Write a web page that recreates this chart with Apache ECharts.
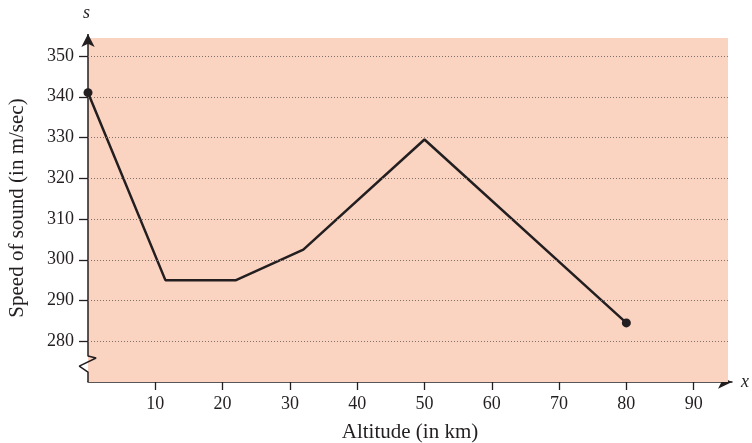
<!DOCTYPE html>
<html><head><meta charset="utf-8">
<script src="https://cdn.jsdelivr.net/npm/echarts@6/dist/echarts.min.js"></script>
<style>html,body{margin:0;padding:0;background:#fff}#c{width:752px;height:443px}</style>
</head><body><div id="c"></div>
<script>
// Data
const altitude = [0, 11.5, 22, 32, 50, 80];
const speed = [341, 295, 295, 302.5, 329.5, 284.5];
const xTicks = [10, 20, 30, 40, 50, 60, 70, 80, 90];
const yTicks = [280, 290, 300, 310, 320, 330, 340, 350];
// Axis extents and shaded region
const xMin = 0, xMax = 95.7;
const yMin = 270, yMax = 355.4;
const shadeRight = 95.1, shadeTop = 354.4;
// Broken y-axis (zigzag) path, bottom to top (drawn in an overlay grid that starts left of x = 0)
const overlayXMin = -1.4;
const yAxisPath = [[0, 270], [0, 272.45], [-1.3, 273.9], [1.2, 275.9], [0, 276.4], [0, yMax]];

const ink = '#231f20';
const serif = '"Liberation Serif", "DejaVu Serif", serif';

const chart = echarts.init(document.getElementById('c'));
const pxPerUnit = (752 - 20 - 88) / (xMax - xMin);
chart.setOption({
  animation: false,
  backgroundColor: '#ffffff',
  grid: [
    { left: 88, right: 20, top: 34, bottom: 61, containLabel: false, outerBoundsMode: 'none' },
    { left: 88 + overlayXMin * pxPerUnit, right: 20, top: 34, bottom: 61, containLabel: false, outerBoundsMode: 'none' }
  ],
  xAxis: [{
    type: 'value', gridIndex: 0, min: xMin, max: xMax,
    axisLine: { show: true, onZero: false, lineStyle: { color: ink, width: 1.5 }, symbol: ['none', 'arrow'], symbolSize: [10, 14] },
    axisTick: { show: true, inside: false, length: 8, customValues: xTicks, lineStyle: { color: ink, width: 1.3 } },
    axisLabel: { customValues: xTicks, margin: 13, color: ink, fontFamily: serif, fontSize: 18 },
    splitLine: { show: false },
    name: 'x', nameLocation: 'end', nameGap: 9,
    nameTextStyle: { fontFamily: serif, fontStyle: 'italic', fontSize: 18, color: ink, verticalAlign: 'middle' }
  }, {
    type: 'value', gridIndex: 0, min: xMin, max: xMax, position: 'bottom',
    axisLine: { show: false },
    axisTick: { show: true, inside: true, length: 7, customValues: xTicks, lineStyle: { color: ink, width: 1.3 } },
    axisLabel: { show: false },
    splitLine: { show: false },
    name: 'Altitude (in km)', nameLocation: 'middle', nameGap: 40,
    nameTextStyle: { fontFamily: serif, fontSize: 21, color: ink }
  }, {
    type: 'value', gridIndex: 1, min: overlayXMin, max: xMax, show: false
  }],
  yAxis: [{
    type: 'value', gridIndex: 0, min: yMin, max: yMax,
    axisLine: { show: false },
    axisTick: { show: true, inside: false, length: 9, customValues: yTicks, lineStyle: { color: ink, width: 1.3 } },
    axisLabel: { customValues: yTicks, margin: 14, color: ink, fontFamily: serif, fontSize: 18 },
    splitLine: { show: false },
    name: 'Speed of sound (in m/sec)', nameLocation: 'middle', nameGap: 60,
    nameTextStyle: { fontFamily: serif, fontSize: 21, color: ink }
  }, {
    type: 'value', gridIndex: 1, min: yMin, max: yMax, show: false
  }],
  graphic: [{
    type: 'text', left: 83, top: 4,
    style: { text: 's', font: 'italic 18px ' + serif, fill: ink }
  }],
  series: [{
    type: 'line', xAxisIndex: 0, yAxisIndex: 0, z: 1,
    silent: true, data: [],
    markArea: {
      silent: true,
      itemStyle: { color: '#fad3c1' },
      data: [[{ coord: [0, yMin] }, { coord: [shadeRight, shadeTop] }]]
    },
    markLine: {
      silent: true, symbol: ['none', 'none'], label: { show: false },
      lineStyle: { color: '#7d6f69', width: 1, type: [1, 2] },
      data: yTicks.map(v => [{ coord: [0, v] }, { coord: [shadeRight, v] }])
    }
  }, {
    type: 'line', xAxisIndex: 2, yAxisIndex: 1, z: 3, clip: false,
    silent: true,
    data: yAxisPath.map((p, i) => ({
      value: p,
      symbol: i === yAxisPath.length - 1 ? 'arrow' : 'none'
    })),
    symbolSize: [10, 13],
    showSymbol: true,
    itemStyle: { color: ink },
    lineStyle: { color: ink, width: 1.5 }
  }, {
    type: 'line', xAxisIndex: 0, yAxisIndex: 0, z: 4,
    data: altitude.map((x, i) => ({
      value: [x, speed[i]],
      symbol: (i === 0 || i === altitude.length - 1) ? 'circle' : 'none'
    })),
    showSymbol: true, symbolSize: 9,
    itemStyle: { color: ink },
    lineStyle: { color: ink, width: 2.5 }
  }]
});
</script></body></html>
